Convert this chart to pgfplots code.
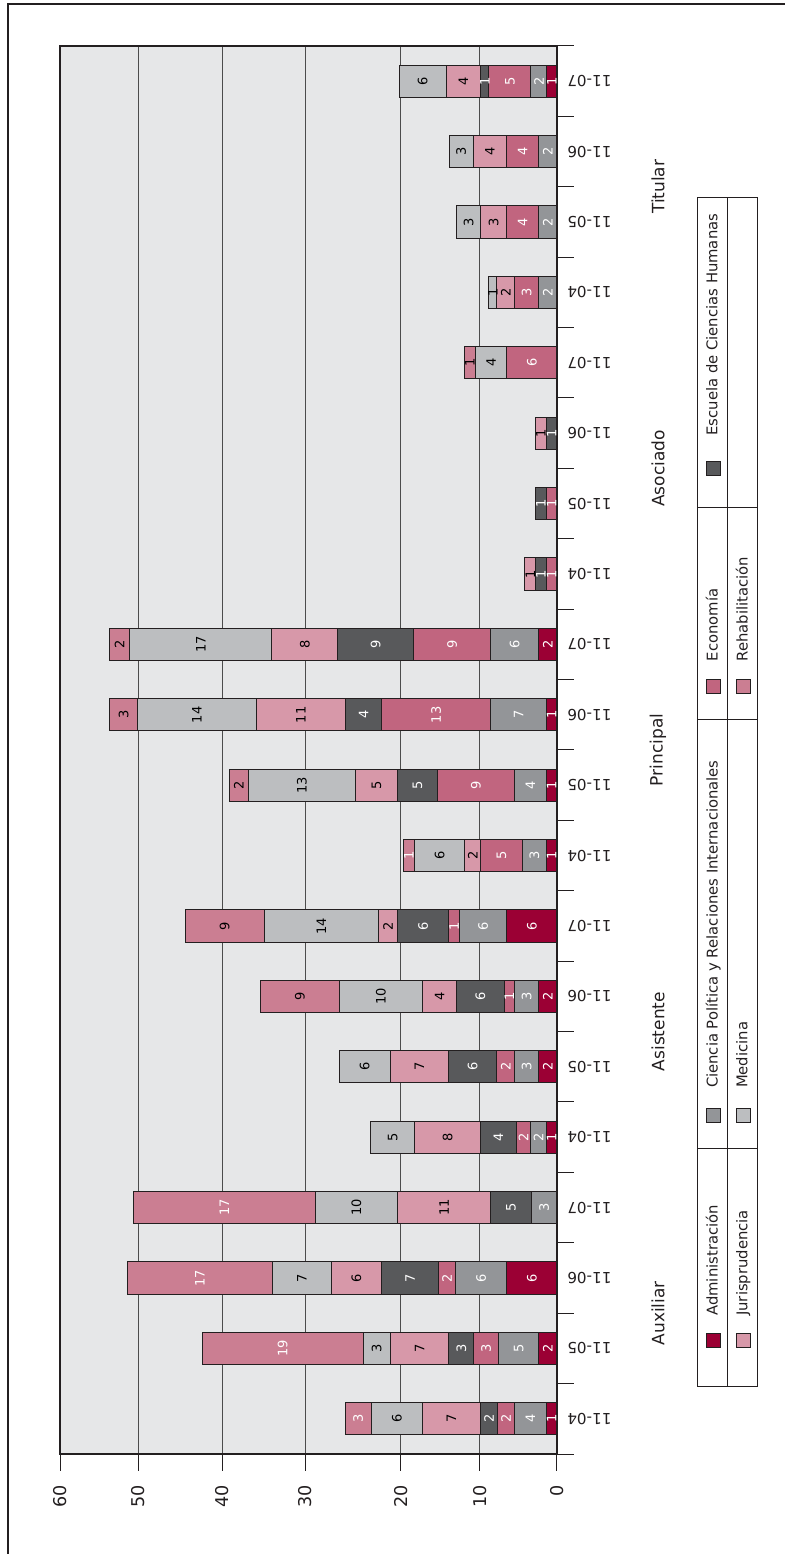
\documentclass[border=0pt]{standalone}
\usepackage{pgfplots}
\usepackage{pgfplotstable}
\usepackage{graphicx}
\usepackage{fontspec}
\setmainfont{DejaVu Sans}
\pgfplotsset{compat=1.18}

\definecolor{adm}{HTML}{9B0034}
\definecolor{cp}{HTML}{939598}
\definecolor{eco}{HTML}{C1657F}
\definecolor{ech}{HTML}{58595B}
\definecolor{jur}{HTML}{D798A9}
\definecolor{med}{HTML}{BCBEC0}
\definecolor{reh}{HTML}{CB7E92}
\definecolor{bg}{HTML}{E6E7E8}
\definecolor{ink}{HTML}{231F20}

% one table per school: category index, bar length, printed label, label whiteness (100 white, 0 black)
\pgfplotstableread{
x w lab c
0 1.29 1 100
1 2.21 2 100
2 6.04 6 100
3 0 {} 100
4 1.29 1 100
5 2.21 2 100
6 2.21 2 100
7 6.04 6 100
8 1.29 1 100
9 1.29 1 100
10 1.29 1 100
11 2.21 2 100
12 0 {} 100
13 0 {} 100
14 0 {} 100
15 0 {} 100
16 0 {} 100
17 0 {} 100
18 0 {} 100
19 1.21 1 100
}\admtab

\pgfplotstableread{
x w lab c
0 3.83 4 100
1 4.83 5 100
2 6.21 6 100
3 3.13 3 100
4 1.88 2 100
5 2.92 3 100
6 2.92 3 100
7 5.75 6 100
8 2.88 3 100
9 3.83 4 100
10 6.71 7 100
11 5.79 6 100
12 0 {} 100
13 0 {} 100
14 0 {} 100
15 0 {} 100
16 2.21 2 100
17 2.21 2 100
18 2.21 2 100
19 1.93 2 100
}\cptab

\pgfplotstableread{
x w lab c
0 2.04 2 100
1 3.00 3 100
2 2.04 2 100
3 0 {} 100
4 1.75 2 100
5 2.13 2 100
6 1.25 1 100
7 1.25 1 100
8 5.04 5 100
9 9.33 9 100
10 13.21 13 100
11 9.33 9 100
12 1.29 1 100
13 1.29 1 100
14 0 {} 100
15 6.04 6 100
16 2.90 3 100
17 3.86 4 100
18 3.86 4 100
19 5.07 5 100
}\ecotab

\pgfplotstableread{
x w lab c
0 2.08 2 100
1 3.00 3 100
2 6.88 7 100
3 4.88 5 100
4 4.29 4 100
5 5.83 6 100
6 5.71 6 100
7 6.21 6 100
8 0 {} 100
9 4.79 5 100
10 4.29 4 100
11 9.13 9 100
12 1.29 1 100
13 1.29 1 100
14 1.29 1 100
15 0 {} 100
16 0 {} 100
17 0 {} 100
18 0 {} 100
19 1.00 1 100
}\echtab

\pgfplotstableread{
x w lab c
0 7.00 7 0
1 7.08 7 0
2 6.08 6 0
3 11.25 11 0
4 8.00 8 0
5 7.04 7 0
6 4.17 4 0
7 2.29 2 0
8 1.92 2 0
9 5.13 5 0
10 10.83 11 0
11 7.96 8 0
12 1.29 1 0
13 0 {} 0
14 1.29 1 0
15 0 {} 0
16 2.17 2 0
17 3.14 3 0
18 4.06 4 0
19 4.19 4 0
}\jurtab

\pgfplotstableread{
x w lab c
0 6.17 6 0
1 3.29 3 0
2 7.08 7 0
3 9.92 10 0
4 5.25 5 0
5 6.17 6 0
6 10.00 10 0
7 13.83 14 0
8 6.08 6 0
9 12.88 13 0
10 14.29 14 0
11 17.17 17 0
12 0 {} 0
13 0 {} 0
14 0 {} 0
15 3.82 4 0
16 0.93 1 0
17 2.90 3 0
18 2.90 3 0
19 5.67 6 0
}\medtab

\pgfplotstableread{
x w lab c
0 3.17 3 100
1 19.42 19 100
2 17.54 17 100
3 21.96 17 100
4 0 {} 0
5 0 {} 0
6 9.54 9 0
7 9.50 9 0
8 1.33 1 100
9 2.33 2 0
10 3.38 3 0
11 2.42 2 0
12 0 {} 0
13 0 {} 0
14 0 {} 0
15 1.29 1 0
16 0 {} 0
17 0 {} 0
18 0 {} 0
19 0 {} 0
}\rehtab

\begin{document}
\rotatebox{90}{%
\begin{tikzpicture}
\path[use as bounding box] (0,0) rectangle (777pt,392.5pt);
\draw[ink, line width=1pt] (0,388.5pt) -- (775pt,388.5pt) -- (775pt,0);
\begin{axis}[
    at={(50pt,114pt)}, anchor=south west,
    scale only axis, width=704pt, height=248.5pt,
    ybar stacked, bar width=0.46,
    xmin=-0.5, xmax=19.5, ymin=0, ymax=60,
    clip=false,
    axis background/.style={fill=bg},
    axis line style={draw=ink, line width=1pt},
    tick style={draw=ink, line width=0.5pt},
    tick align=outside, tick pos=left,
    major tick length=8.3pt,
    ytick={0,9.3,18.85,30.4,40.4,50.55,60},
    yticklabels={0,10,20,30,40,50,60},
    ymajorgrids, grid style={draw=black!70, line width=0.5pt},
    yticklabel style={anchor=east, inner sep=0pt, xshift=-7pt, font=\fontsize{8.8}{10}\selectfont},
    xtick={-0.5,0.5,...,19.5}, xticklabels={},
    extra x ticks={0,...,19},
    extra x tick labels={11-04,11-05,11-06,11-07,11-04,11-05,11-06,11-07,11-04,11-05,11-06,11-07,11-04,11-05,11-06,11-07,11-04,11-05,11-06,11-07},
    extra x tick style={major tick length=0pt, xticklabel style={yshift=-5pt, rotate=90, anchor=east, inner sep=0pt, font=\fontsize{7.6}{9}\selectfont}},
    tick label style={text=ink},
    point meta=explicit symbolic,
    visualization depends on={\thisrow{c}\as\lc},
    nodes near coords={\pgfplotspointmeta},
    every node near coord/.append style={anchor=center, inner sep=0pt, text=white!\lc!black,
        font=\fontsize{6.5}{7}\selectfont},
    legend columns=4,
    legend cell align=left,
    legend image code/.code={\draw[#1, draw=ink, line width=0.4pt] (0pt,-3.5pt) rectangle (7pt,3.5pt);},
    legend style={at={(0.07528,-0.29879)}, anchor=north west, draw=none, fill=none,
        inner sep=0pt, column sep=0pt, row sep=7.5pt,
        font=\fontsize{7.4}{8}\selectfont, text=ink,
        nodes={inner sep=0pt, anchor=west}},
]
\addplot[fill=adm, draw=ink, line width=0.5pt] table[x=x, y=w, meta=lab] {\admtab};
\addlegendentry{\hspace*{8.5pt}\makebox[96.5pt][l]{Administración}}
\addplot[fill=cp, draw=ink, line width=0.5pt] table[x=x, y=w, meta=lab] {\cptab};
\addlegendentry{\hspace*{10pt}\makebox[197pt][l]{Ciencia Política y Relaciones Internacionales}}
\addplot[fill=eco, draw=ink, line width=0.5pt] table[x=x, y=w, meta=lab] {\ecotab};
\addlegendentry{\hspace*{9pt}\makebox[92.5pt][l]{Economía}}
\addplot[fill=ech, draw=ink, line width=0.5pt] table[x=x, y=w, meta=lab] {\echtab};
\addlegendentry{\hspace*{13pt}\makebox[120pt][l]{Escuela de Ciencias Humanas}}
\addplot[fill=jur, draw=ink, line width=0.5pt] table[x=x, y=w, meta=lab] {\jurtab};
\addlegendentry{\hspace*{8.5pt}\makebox[96.5pt][l]{Jurisprudencia}}
\addplot[fill=med, draw=ink, line width=0.5pt] table[x=x, y=w, meta=lab] {\medtab};
\addlegendentry{\hspace*{10pt}\makebox[197pt][l]{Medicina}}
\addplot[fill=reh, draw=ink, line width=0.5pt] table[x=x, y=w, meta=lab] {\rehtab};
\addlegendentry{\hspace*{9pt}\makebox[92.5pt][l]{Rehabilitación}}

\node[font=\fontsize{8.5}{10}\selectfont, text=ink, yshift=-50.5pt] at (axis cs:1.5,0) {Auxiliar};
\node[font=\fontsize{8.5}{10}\selectfont, text=ink, yshift=-50.5pt] at (axis cs:5.5,0) {Asistente};
\node[font=\fontsize{8.5}{10}\selectfont, text=ink, yshift=-50.5pt] at (axis cs:9.5,0) {Principal};
\node[font=\fontsize{8.5}{10}\selectfont, text=ink, yshift=-50.5pt] at (axis cs:13.5,0) {Asociado};
\node[font=\fontsize{8.5}{10}\selectfont, text=ink, yshift=-50.5pt] at (axis cs:17.5,0) {Titular};
\end{axis}
% table rules round the legend
\draw[ink, line width=0.5pt] (83.5pt,13.5pt) rectangle (678pt,43.5pt);
\draw[ink, line width=0.5pt] (83.5pt,28.5pt) -- (678pt,28.5pt);
\draw[ink, line width=0.5pt] (202.5pt,13.5pt) -- (202.5pt,43.5pt);
\draw[ink, line width=0.5pt] (417pt,13.5pt) -- (417pt,43.5pt);
\draw[ink, line width=0.5pt] (523pt,13.5pt) -- (523pt,43.5pt);
\end{tikzpicture}}
\end{document}
